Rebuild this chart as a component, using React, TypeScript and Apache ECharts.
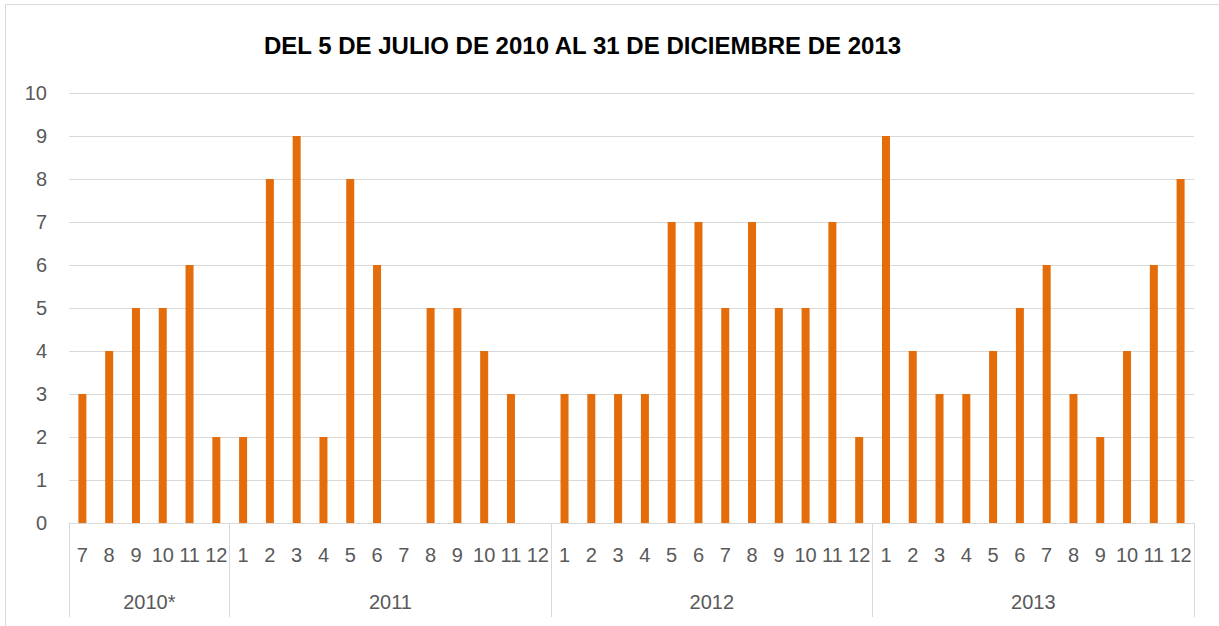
import React, { useEffect, useRef } from "react";
import * as echarts from "echarts";

const titleText = "DEL 5 DE JULIO DE 2010 AL 31 DE DICIEMBRE DE 2013";
const yearLabels = ["2010*", "2011", "2012", "2013"];
const months2010 = ["7", "8", "9", "10", "11", "12"];
const monthsFull = ["1", "2", "3", "4", "5", "6", "7", "8", "9", "10", "11", "12"];
const values2010 = [3, 4, 5, 5, 6, 2];
const values2011 = [2, 8, 9, 2, 8, 6, 0, 5, 5, 4, 3, 0];
const values2012 = [3, 3, 3, 3, 7, 7, 5, 7, 5, 5, 7, 2];
const values2013 = [9, 4, 3, 3, 4, 5, 6, 3, 2, 4, 6, 8];
const yTicks = [0, 1, 2, 3, 4, 5, 6, 7, 8, 9, 10];

export default function App() {
  const ref = useRef<HTMLDivElement>(null);
  useEffect(() => {
    if (!ref.current) return;
    const chart = echarts.init(ref.current, undefined, { renderer: "svg" });
    const groups = [months2010, monthsFull, monthsFull, monthsFull];
    const categories = groups.flat();
    const values = [...values2010, ...values2011, ...values2012, ...values2013];
    const bounds: number[] = [0];
    const centers: number[] = [];
    groups.forEach((g) => {
      const start = bounds[bounds.length - 1];
      centers.push(start + g.length / 2);
      bounds.push(start + g.length);
    });
    const total = categories.length;
    const font = "Liberation Sans";
    chart.setOption({
      animation: false,
      title: {
        text: titleText,
        left: 259,
        top: 28,
        textStyle: { fontFamily: font, fontSize: 24, fontWeight: "bold", color: "#000" },
      },
      graphic: [
        {
          type: "rect",
          shape: { x: 5.5, y: 4.5, width: 1240, height: 660 },
          style: { fill: "none", stroke: "#d9d9d9", lineWidth: 1 },
          silent: true,
        },
      ],
      grid: { left: 69, right: 25, top: 93, bottom: 103, containLabel: false },
      xAxis: [
        {
          type: "category",
          data: categories,
          axisLine: { show: true, lineStyle: { color: "#d9d9d9", width: 1 } },
          axisTick: { show: false },
          axisLabel: { interval: 0, margin: 22, color: "#595959", fontFamily: font, fontSize: 20 },
        },
        {
          type: "value",
          min: 0,
          max: total,
          position: "bottom",
          axisLine: { show: false },
          splitLine: { show: false },
          axisTick: {
            show: true,
            customValues: bounds,
            length: 94,
            lineStyle: { color: "#d9d9d9", width: 1 },
          },
          axisLabel: {
            customValues: centers,
            margin: 69,
            color: "#595959",
            fontFamily: font,
            fontSize: 20,
            formatter: (v: number) => {
              const i = centers.findIndex((c) => Math.abs(c - v) < 1e-6);
              return i >= 0 ? yearLabels[i] : "";
            },
          },
        },
      ],
      yAxis: {
        type: "value",
        min: yTicks[0],
        max: yTicks[yTicks.length - 1],
        interval: 1,
        axisLine: { show: false },
        axisTick: { show: false },
        splitLine: { show: true, lineStyle: { color: "#d9d9d9", width: 1 } },
        axisLabel: { margin: 22, color: "#595959", fontFamily: font, fontSize: 20 },
      },
      series: [
        {
          type: "bar",
          xAxisIndex: 0,
          data: values,
          barWidth: 8,
          itemStyle: { color: "#E46C0A" },
        },
      ],
    });
    return () => chart.dispose();
  }, []);
  return (
    <div
      ref={ref}
      style={{ position: "fixed", left: 0, top: 0, width: 1219, height: 626, background: "#fff" }}
    />
  );
}
